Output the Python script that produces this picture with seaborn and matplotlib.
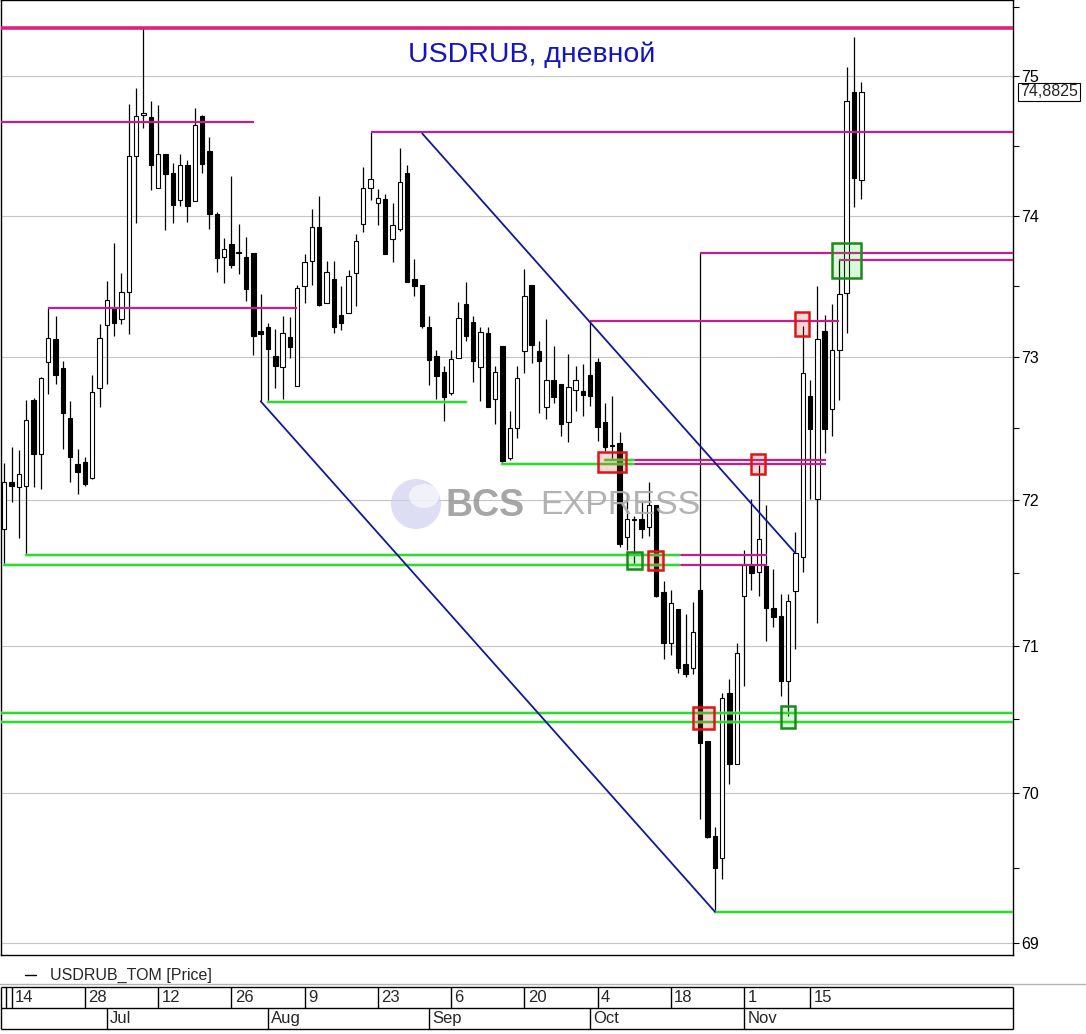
import numpy as np
import pandas as pd
import matplotlib
matplotlib.use("Agg")
import matplotlib.pyplot as plt
import seaborn as sns
from matplotlib.patches import Rectangle, Ellipse
from matplotlib.lines import Line2D
from matplotlib.ticker import FixedLocator, FixedFormatter, NullFormatter

# ---------------- data ----------------
opens = [71.80, 72.13, 72.095, 72.10, 72.70, 72.325, 72.965, 73.13, 72.92, 72.57,
         72.255, 72.27, 72.153, 72.78, 73.226, 73.344, 73.264, 73.46, 74.426, 74.72,
         74.705, 74.198, 74.44, 74.305, 74.112, 74.362, 74.105, 74.71, 74.464, 74.014,
         73.708, 73.80, 73.743, 73.703, 73.731, 73.186, 73.212, 73.004, 72.93, 73.144,
         72.80, 73.502, 73.677, 73.922, 73.377, 73.547, 73.297, 73.311, 73.594, 73.941,
         74.198, 74.091, 74.119, 73.83, 73.903, 74.30, 73.553, 73.507, 73.214, 73.009,
         72.898, 72.749, 72.99, 73.37, 73.243, 72.93, 73.172, 72.703, 73.08, 72.297,
         72.50, 73.042, 73.507, 73.045, 72.652, 72.842, 72.814, 72.548, 72.77, 72.759,
         72.875, 72.967, 72.548, 72.388, 72.40, 71.75, 71.866, 71.869, 71.819, 71.968,
         71.366, 71.022, 71.251, 70.875, 70.852, 71.381, 70.35, 69.713, 69.568, 70.678,
         70.201, 71.338, 71.548, 71.503, 71.548, 71.258, 71.203, 70.757, 71.373, 71.612,
         72.724, 72.012, 73.186, 72.638, 73.05, 73.453, 74.886, 74.25]
highs = [72.26, 72.37, 72.35, 72.70, 72.71, 72.86, 73.347, 73.29, 72.974, 72.69,
         72.355, 72.30, 72.872, 73.234, 73.533, 73.807, 73.594, 74.80, 74.912, 75.345,
         74.82, 74.79, 74.44, 74.376, 74.44, 74.393, 74.77, 74.72, 74.562, 74.026,
         73.842, 74.279, 73.943, 73.844, 73.731, 73.441, 73.24, 73.20, 73.29, 73.278,
         73.505, 73.724, 74.05, 74.136, 73.68, 73.68, 73.498, 73.616, 73.87, 74.343,
         74.598, 74.191, 74.157, 74.091, 74.479, 74.357, 73.689, 73.507, 73.29, 73.051,
         72.939, 73.051, 73.384, 73.526, 73.29, 73.212, 73.212, 72.939, 73.08, 72.624,
         72.937, 73.618, 73.507, 73.115, 73.264, 73.08, 72.814, 73.023, 72.937, 72.953,
         73.252, 72.995, 72.68, 72.724, 72.475, 72.054, 71.892, 71.991, 72.13, 71.968,
         71.441, 71.381, 71.251, 71.216, 71.297, 73.731, 70.35, 69.774, 70.678, 70.773,
         71.017, 71.656, 72.007, 72.246, 71.966, 71.526, 71.352, 71.352, 71.782, 73.217,
         72.842, 73.50, 73.294, 73.37, 73.689, 75.067, 75.283, 74.959]
lows = [71.555, 71.99, 71.74, 71.62, 72.09, 72.08, 72.74, 72.81, 72.36, 72.13,
        72.047, 72.10, 72.15, 72.652, 72.81, 73.15, 73.234, 73.163, 73.948, 74.626,
        74.184, 74.198, 73.90, 73.948, 74.066, 73.953, 74.105, 74.30, 73.903, 73.60,
        73.521, 73.625, 73.585, 73.391, 73.016, 72.69, 72.684, 72.784, 72.708, 72.993,
        72.80, 73.377, 73.507, 73.358, 73.377, 73.17, 73.193, 73.311, 73.358, 73.882,
        74.109, 73.931, 73.726, 73.672, 73.889, 73.531, 73.432, 73.202, 72.802, 72.708,
        72.555, 72.731, 72.99, 73.113, 72.826, 72.694, 72.649, 72.531, 72.255, 72.28,
        72.436, 72.889, 72.958, 72.61, 72.569, 72.68, 72.447, 72.406, 72.624, 72.59,
        72.656, 72.413, 72.343, 72.28, 71.679, 71.656, 71.555, 71.737, 71.755, 71.335,
        70.913, 70.936, 70.818, 70.79, 70.807, 69.826, 69.70, 69.208, 69.428, 70.066,
        70.201, 70.727, 71.383, 71.338, 71.033, 71.132, 70.66, 70.524, 70.976, 71.507,
        72.012, 71.159, 72.332, 72.447, 72.698, 73.17, 74.062, 74.119]
closes = [72.13, 72.10, 72.18, 72.56, 72.325, 72.85, 73.135, 72.875, 72.61, 72.30,
          72.20, 72.116, 72.756, 73.135, 73.403, 73.24, 73.46, 74.426, 74.712, 74.734,
          74.36, 74.44, 74.295, 74.074, 74.362, 74.066, 74.65, 74.366, 74.009, 73.698,
          73.764, 73.648, 73.733, 73.478, 73.146, 73.16, 73.056, 72.935, 73.17, 73.068,
          73.488, 73.667, 73.922, 73.365, 73.597, 73.212, 73.24, 73.573, 73.821, 74.198,
          74.262, 74.126, 73.726, 73.934, 74.236, 73.531, 73.502, 73.217, 72.979, 72.865,
          72.722, 72.986, 73.276, 73.146, 72.972, 73.179, 72.649, 72.896, 72.273, 72.50,
          72.856, 73.427, 73.082, 72.969, 72.842, 72.719, 72.534, 72.793, 72.84, 72.733,
          72.726, 72.513, 72.371, 72.381, 71.698, 71.874, 71.874, 71.805, 71.968, 71.342,
          71.022, 71.29, 70.852, 70.805, 71.098, 70.337, 69.707, 69.501, 70.644, 70.201,
          70.954, 71.553, 71.50, 71.732, 71.256, 71.198, 70.757, 71.304, 71.634, 72.889,
          72.499, 73.128, 72.499, 73.05, 73.446, 74.821, 74.269, 74.8825]

# trading days (Moscow exchange closed on 4 Nov 2021)
dates = pd.bdate_range("2021-06-11", "2021-11-24")
dates = dates[dates != pd.Timestamp("2021-11-04")]
day_label_dates = pd.date_range("2021-06-14", "2021-11-15", freq="14D")
month_names = ["Jul", "Aug", "Sep", "Oct", "Nov"]

# analyst drawings: (start day index, end day index or None = to right edge, level)
magenta_levels = [(-0.5, None, 75.35), (-0.5, 34.1, 74.671), (50, None, 74.598),
                  (6, 40, 73.347), (80, 114, 73.252), (95, None, 73.731),
                  (114, None, 73.684), (85.8, 112.2, 72.28), (85.8, 112.2, 72.255),
                  (92.1, 104.1, 71.622), (92.1, 104.1, 71.553)]
green_levels = [(36, 63, 72.687), (68, 85.8, 72.255), (82, 85.8, 72.28),
                (3, 92.1, 71.62), (0, 92.1, 71.555), (-0.5, None, 70.542),
                (-0.5, None, 70.481), (97, None, 69.208)]
blue_channel = [((35, 72.69), (97, 69.208)), ((57.06, 74.586), (108, 71.636))]
red_boxes = [(81.0, 84.9, 72.197, 72.339), (87.9, 89.9, 71.519, 71.651),
             (101.9, 103.9, 72.183, 72.322), (107.9, 109.9, 73.147, 73.316),
             (94.0, 96.9, 70.437, 70.584)]
green_boxes = [(85.0, 87.0, 71.525, 71.647), (106.0, 107.9, 70.444, 70.589),
               (112.95, 116.9, 73.559, 73.807)]
y_major = [69, 70, 71, 72, 73, 74, 75]
last_label = "74,8825"

# ---------------- figure ----------------
sns.set_theme(style="white")
plt.rcParams["font.family"] = ["Liberation Sans", "DejaVu Sans"]

W, H = 1086, 1034
fig = plt.figure(figsize=(W / 100, H / 100), dpi=100)
ax = fig.add_axes([1 / W, (H - 955) / H, 1012 / W, 955 / H])
XL, XR = -0.45, 137.71
ax.set_xlim(XL, XR)
ax.set_yscale("log")
ax.set_ylim(68.92, 75.55)

df = pd.DataFrame({"open": opens, "high": highs, "low": lows, "close": closes})
df["x"] = np.arange(len(df))
up = df["close"] >= df["open"]
body_lo = np.minimum(df["open"], df["close"])
body_h = np.maximum(np.abs(df["close"] - df["open"]), 0.004)

ax.vlines(df["x"], df["low"], df["high"], color="black", lw=0.9, zorder=2)
ax.bar(df["x"], body_h, bottom=body_lo, width=0.6,
       color=np.where(up, "white", "black"), edgecolor="black", linewidth=0.8, zorder=3)

for x0, x1, lv in magenta_levels:
    x1 = XR if x1 is None else x1
    lw = 2.6 if lv > 75.3 else 1.6
    col = "#e0207a" if lv > 75.3 else "#c41e8c"
    ax.plot([x0, x1], [lv, lv], color=col, lw=lw, zorder=4, solid_capstyle="butt")
for x0, x1, lv in green_levels:
    x1 = XR if x1 is None else x1
    ax.plot([x0, x1], [lv, lv], color="#7ee87e", lw=2.6, zorder=4, alpha=0.6)
    ax.plot([x0, x1], [lv, lv], color="#2fd82f", lw=1.4, zorder=4)
for (a, b) in blue_channel:
    ax.plot([a[0], b[0]], [a[1], b[1]], color="#10189a", lw=1.3, zorder=4)
for x0, x1, lo, hi in red_boxes:
    ax.add_patch(Rectangle((x0, lo), x1 - x0, hi - lo, facecolor=(1, 0.2, 0.2, 0.2),
                           edgecolor="#dd1515", lw=1.8, zorder=5))
for x0, x1, lo, hi in green_boxes:
    ax.add_patch(Rectangle((x0, lo), x1 - x0, hi - lo, facecolor=(0.2, 0.85, 0.2, 0.18),
                           edgecolor="#1b8a1b", lw=1.8, zorder=5))

ax.yaxis.set_major_locator(FixedLocator(y_major))
ax.yaxis.set_major_formatter(FixedFormatter([str(v) for v in y_major]))
ax.yaxis.set_minor_locator(FixedLocator([v + 0.5 for v in range(68, 76)]))
ax.yaxis.set_minor_formatter(NullFormatter())
ax.yaxis.tick_right()
ax.tick_params(axis="y", which="both", direction="out", length=4, width=0.8,
               colors="black", labelsize=11.5, pad=2, right=True, left=False)
ax.set_xticks([])
ax.yaxis.grid(True, which="major", color="#c4c4c4", lw=0.8)
ax.xaxis.grid(False)
ax.set_axisbelow(True)
for s in ax.spines.values():
    s.set_color("black")
    s.set_linewidth(1)

# ---------------- text ----------------
fig.text(532 / W, 1 - 55 / H, "USDRUB, дневной", color="#1515c0", fontsize=20.5,
         ha="center", va="center")
fig.text(1020 / W, 1 - 92 / H, last_label, fontsize=11.5, ha="left", va="center",
         bbox=dict(boxstyle="square,pad=0.12", fc="white", ec="black", lw=0.8))

# watermark
fig.add_artist(Ellipse((416 / W, 1 - 504 / H), 50 / W, 50 / H, transform=fig.transFigure,
                       facecolor="#d4d4ee", edgecolor="none", alpha=0.75, zorder=8))
fig.add_artist(Ellipse((424 / W, 1 - 496 / H), 30 / W, 24 / H, transform=fig.transFigure,
                       facecolor="white", edgecolor="none", alpha=0.6, zorder=8))
fig.text(445 / W, 1 - 506 / H, "BCS", fontsize=27, fontweight="bold", color="#9c9c9c",
         ha="left", va="center", alpha=0.9, zorder=9)
fig.text(540 / W, 1 - 506 / H, "EXPRESS", fontsize=24.5, color="#aaaaaa",
         ha="left", va="center", alpha=0.9, zorder=9)

# legend line
fig.add_artist(Line2D([25 / W, 36 / W], [1 - 975 / H] * 2, color="black", lw=1))
fig.text(50 / W, 1 - 975 / H, "USDRUB_TOM [Price]", fontsize=11.5, ha="left", va="center")
fig.add_artist(Line2D([0, 1], [1 - 984 / H] * 2, color="#b4b4b4", lw=1))

# ---------------- date axis ----------------
axd = fig.add_axes([1 / W, (H - 1029) / H, 1012 / W, 42 / H])
axd.set_xlim(XL, XR)
axd.set_ylim(0, 2)
axd.axis("off")
kw = dict(color="black", lw=1, clip_on=False)
axd.hlines([0, 1, 2], XL, XR, **kw)
axd.vlines([XL, XR], 0, 2, **kw)
axd.vlines([0.3], 1, 2, **kw)
pos = {d: i for i, d in enumerate(dates)}
for d in day_label_dates:
    i = pos[d]
    axd.vlines([i], 1, 2, **kw)
    axd.text(i + 0.45, 1.5, str(d.day), fontsize=12, ha="left", va="center")
for m, name in zip(range(7, 12), month_names):
    i = int(np.argmax(dates.month == m))
    axd.vlines([i], 0, 1, **kw)
    axd.text(i + 0.45, 0.5, name, fontsize=12, ha="left", va="center")

fig.savefig("out.png", dpi=100)
